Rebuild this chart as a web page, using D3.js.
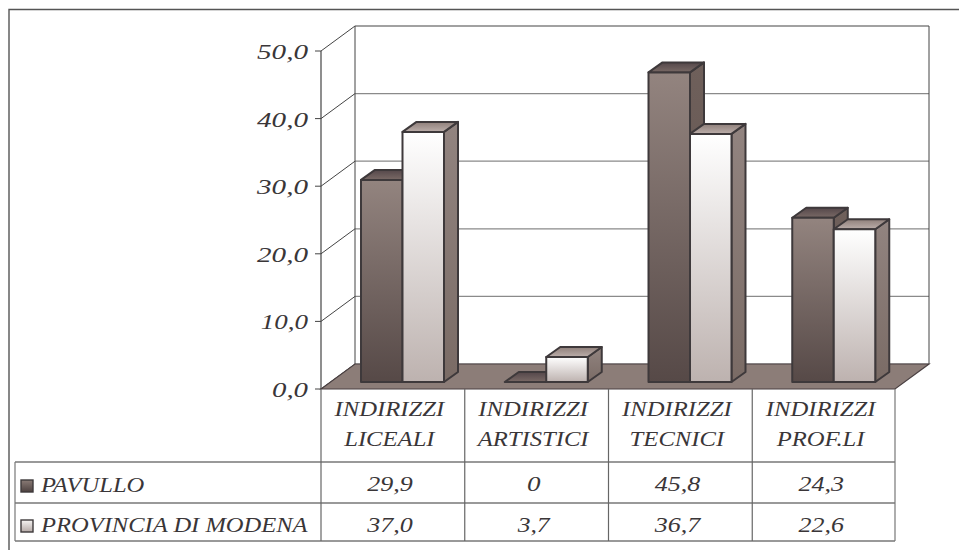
<!DOCTYPE html>
<html><head><meta charset="utf-8">
<style>html,body{margin:0;padding:0;background:#fff}svg{display:block}
text{font-family:"Liberation Serif",serif;font-style:italic;fill:#3a3638}</style>
<script src="https://cdn.jsdelivr.net/npm/d3@7/dist/d3.min.js"></script></head><body>
<svg id="c" width="959" height="550"></svg>
<script>
const categories=[["INDIRIZZI","LICEALI"],["INDIRIZZI","ARTISTICI"],["INDIRIZZI","TECNICI"],["INDIRIZZI","PROF.LI"]];
const seriesNames=["PAVULLO","PROVINCIA DI MODENA"];
const pavullo=[29.9,0,45.8,24.3];
const provincia=[37.0,3.7,36.7,22.6];
const pavulloLabels=["29,9","0","45,8","24,3"];
const provinciaLabels=["37,0","3,7","36,7","22,6"];
const tickValues=[0,10,20,30,40,50];
const tickLabels=["0,0","10,0","20,0","30,0","40,0","50,0"];

const svg=d3.select("#c");
const defs=svg.append("defs");
function grad(id,a,b){const g=defs.append("linearGradient").attr("id",id).attr("x1",0).attr("y1",0).attr("x2",0).attr("y2",1);
 g.append("stop").attr("offset",0).attr("stop-color",a);g.append("stop").attr("offset",1).attr("stop-color",b);}
grad("pf","#93847f","#564947");grad("pt","#54474a","#7a6a66");grad("ps","#6f605b","#5f514d");
grad("mf","#ffffff","#bdb2af");grad("mt","#8f7f7a","#bcaeaa");grad("ms","#928480","#7a6b65");
grad("lp","#8a7b76","#4d4140");grad("lm","#f6f4f3","#b5a9a6");

const y=d3.scaleLinear().domain([0,50]).range([389,51]);
const x=d3.scaleBand().domain(d3.range(4)).range([321,896]);
const inner=d3.scaleBand().domain([0,1]).range([40,123]);
const DX=34,DY=-25,BDX=14,BDY=-10,BASE=7;
const dark="#3e393b",grid="#8a8a8a";
const line=d3.line();

// stretches a label horizontally to the wider face of the reference
function stretched(sel,factor,width){
  const w=width||sel.node().getComputedTextLength()*factor;
  return sel.attr("textLength",w).attr("lengthAdjust","spacingAndGlyphs");
}
const numWidth=(s,d,c)=>[...s].reduce((a,ch)=>a+(ch===","?c:ch==="1"?d*0.75:d),0);

// frame
svg.append("path").attr("d","M9,550V9.5H959").attr("stroke","#555").attr("stroke-width",1.4).attr("fill","none");

// wall gridlines, axis ticks and labels
tickValues.forEach((t,i)=>{
  svg.append("line").attr("x1",321+DX).attr("x2",929).attr("y1",y(t)+DY).attr("y2",y(t)+DY)
    .attr("stroke",t===50?"#444":grid).attr("stroke-width",1.2);
  svg.append("line").attr("x1",321).attr("x2",321+DX).attr("y1",y(t)).attr("y2",y(t)+DY).attr("stroke","#444");
  svg.append("line").attr("x1",315).attr("x2",321).attr("y1",y(t)).attr("y2",y(t)).attr("stroke","#444");
  const lt=svg.append("text").attr("x",308).attr("y",y(t)+8).attr("text-anchor","end").attr("font-size",21).text(tickLabels[i]);
  stretched(lt,1,numWidth(tickLabels[i],15,6));
});
svg.append("line").attr("x1",321).attr("x2",321).attr("y1",y(50)).attr("y2",y(0)).attr("stroke","#444").attr("stroke-width",1.2);
svg.append("line").attr("x1",321+DX).attr("x2",321+DX).attr("y1",y(50)+DY).attr("y2",y(0)+DY).attr("stroke","#444");
svg.append("line").attr("x1",929).attr("x2",929).attr("y1",y(50)+DY).attr("y2",y(0)+DY).attr("stroke","#444");

// floor
svg.append("path").attr("d",line([[321,y(0)],[321+DX,y(0)+DY],[929,y(0)+DY],[895,y(0)]])+"Z")
  .attr("fill","#8c7d78").attr("stroke","#4a4042").attr("stroke-width",1.2);

// bars
function bar(v,i,s){
  const x0=x(i)+inner(s),w=inner.bandwidth(),b=y(0)-BASE,h=y(0)-y(v),t=b-h;
  const ids=s===0?["pf","pt","ps"]:["mf","mt","ms"];
  const g=svg.append("g").attr("stroke",dark).attr("stroke-width",2).attr("stroke-linejoin","round");
  g.append("path").attr("d",line([[x0+w,t],[x0+w+BDX,t+BDY],[x0+w+BDX,b+BDY],[x0+w,b]])+"Z").attr("fill",`url(#${ids[2]})`);
  g.append("path").attr("d",line([[x0,t],[x0+BDX,t+BDY],[x0+w+BDX,t+BDY],[x0+w,t]])+"Z").attr("fill",`url(#${ids[1]})`);
  if(v>0) g.append("rect").attr("x",x0).attr("y",t).attr("width",w).attr("height",h).attr("fill",`url(#${ids[0]})`);
}
pavullo.forEach((v,i)=>{bar(v,i,0);bar(provincia[i],i,1);});

// data table
const rows=[462,503,541], tableL=15, tableR=895;
const tl="#777";
rows.forEach(r=>svg.append("line").attr("x1",tableL).attr("x2",tableR).attr("y1",r).attr("y2",r).attr("stroke",tl).attr("stroke-width",1.4));
svg.append("line").attr("x1",tableL).attr("x2",tableL).attr("y1",rows[0]).attr("y2",rows[2]).attr("stroke",tl).attr("stroke-width",1.2);
[0,1,2,3,4].forEach(i=>{const vx=i<4?x(i):tableR;
  svg.append("line").attr("x1",vx).attr("x2",vx).attr("y1",y(0)).attr("y2",rows[2]).attr("stroke",i==4?tl:"#666").attr("stroke-width",1.2);});

categories.forEach((c,i)=>{
  const cx=x(i)+x.bandwidth()/2-3.5;
  c.forEach((l,k)=>stretched(svg.append("text").attr("x",cx).attr("y",416+k*30).attr("text-anchor","middle").attr("font-size",22).text(l),1.12));
  [pavulloLabels,provinciaLabels].forEach((a,s)=>{
    const t=svg.append("text").attr("x",cx+0.5).attr("y",[491,532][s]).attr("text-anchor","middle").attr("font-size",21).text(a[i]);
    stretched(t,1,numWidth(a[i],13.5,5));
  });
});
seriesNames.forEach((n,s)=>{
  const ry=[480,520][s];
  svg.append("rect").attr("x",21).attr("y",ry).attr("width",12).attr("height",12)
    .attr("fill",`url(#${s?"lm":"lp"})`).attr("stroke",dark).attr("stroke-width",1.4);
  stretched(svg.append("text").attr("x",41).attr("y",[492,532][s]).attr("font-size",22).text(n),1.115);
});
</script></body></html>
